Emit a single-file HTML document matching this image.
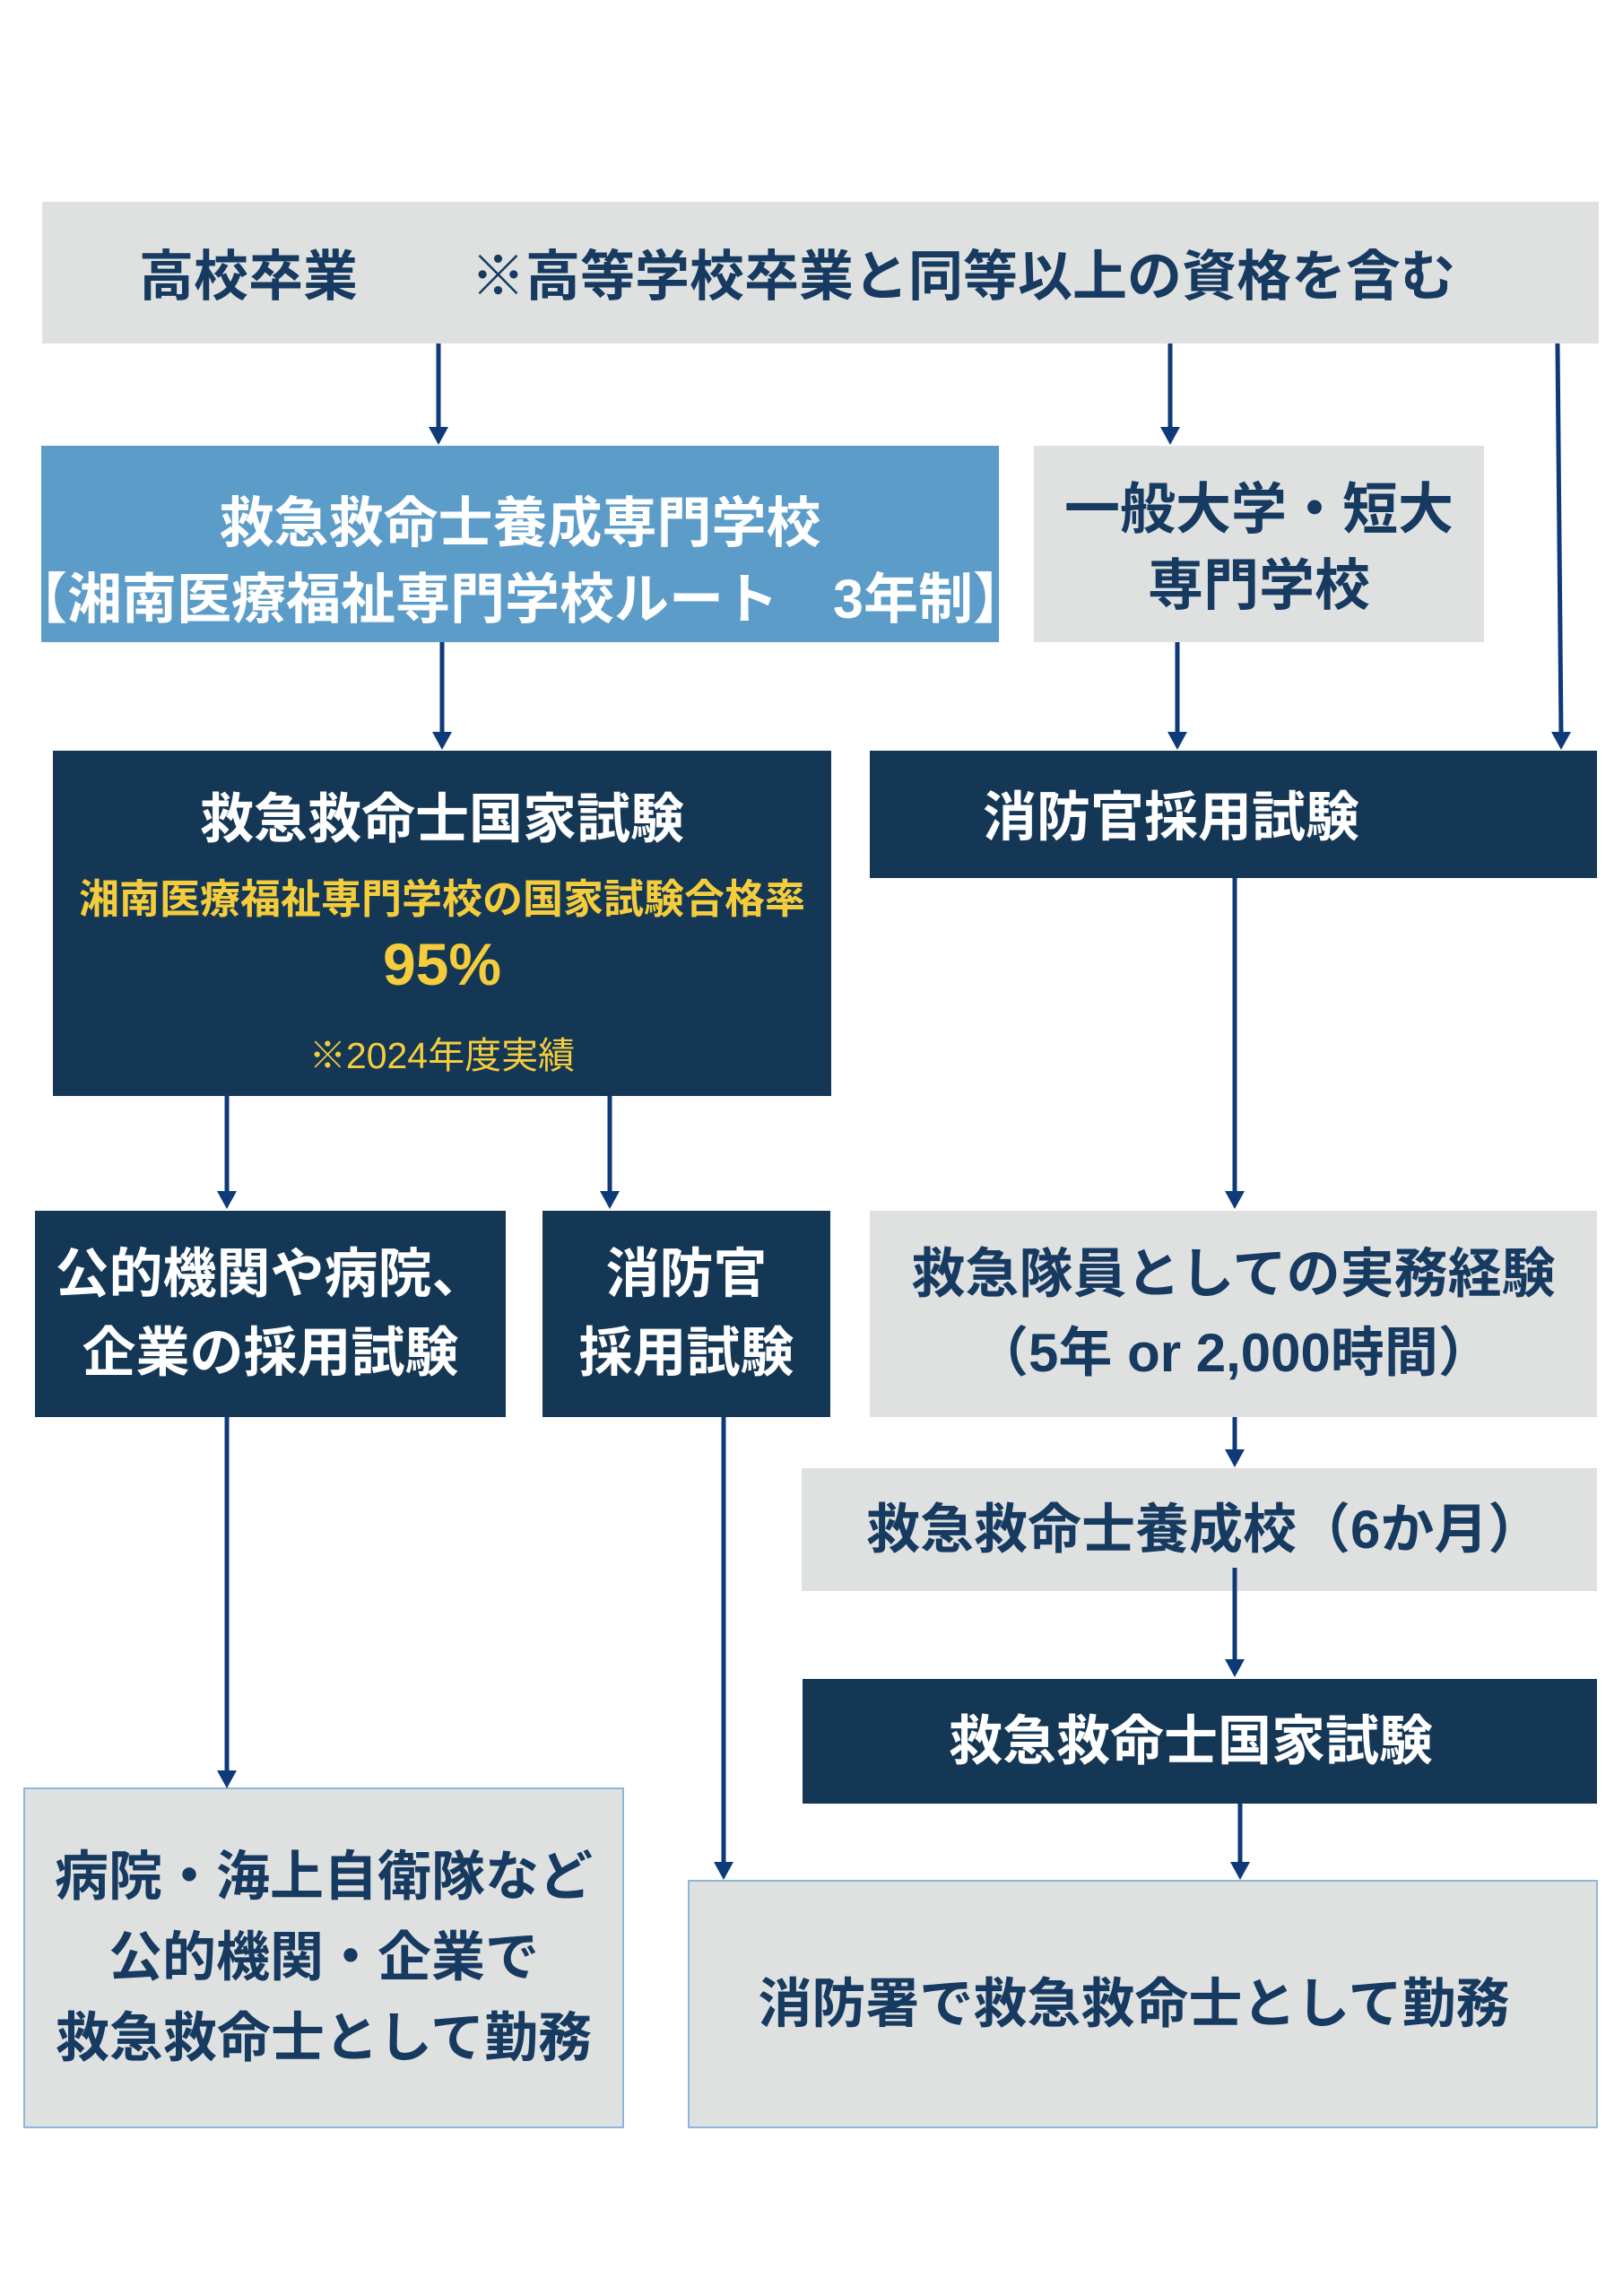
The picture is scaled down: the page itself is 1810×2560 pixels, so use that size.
<!DOCTYPE html>
<html><head><meta charset="utf-8"><style>
body{margin:0;width:1810px;height:2560px;background:#fff;position:relative;overflow:hidden;font-family:"Liberation Sans","Noto Sans CJK JP",sans-serif;font-weight:700}
.b{position:absolute;box-sizing:border-box;display:flex;flex-direction:column;align-items:center;justify-content:center;text-align:center;white-space:nowrap}
.g{background:#dfe1e1;color:#173a60}
.d{background:#143755;color:#fff}
.bl{background:#5c9cc9;color:#fff}
.f{font-size:60px;line-height:88px}
svg{position:absolute;left:0;top:0}
</style></head><body>
<div class="b g" style="left:47px;top:225px;width:1736px;height:158px;display:block;font-size:61px;line-height:166px;text-align:left"><span style="position:absolute;left:108px">高校卒業</span><span style="position:absolute;left:478px">※高等学校卒業と同等以上の資格を含む</span></div>
<div class="b bl" style="left:46px;top:497px;width:1068px;height:219px;font-size:61px;line-height:85px;padding-top:38px"><div>救急救命士養成専門学校</div><div>【湘南医療福祉専門学校ルート　3年制】</div></div>
<div class="b g" style="left:1153px;top:497px;width:502px;height:219px;font-size:62px;line-height:85px;padding-top:8px"><div>一般大学・短大</div><div>専門学校</div></div>
<div class="b d" style="left:59px;top:837px;width:868px;height:385px;justify-content:flex-start">
<div style="font-size:60px;margin-top:42px;line-height:70px">救急救命士国家試験</div>
<div style="font-size:45px;color:#f5cd3c;margin-top:26px;line-height:56px">湘南医療福祉専門学校の国家試験合格率</div>
<div style="font-size:66px;color:#f5cd3c;line-height:84px;margin-top:2px">95%</div>
<div style="font-size:41px;color:#f5cd3c;font-weight:400;margin-top:26px">※2024年度実績</div></div>
<div class="b d" style="left:970px;top:837px;width:811px;height:142px;display:block;font-size:60px;line-height:150px;text-align:left"><span style="position:absolute;left:126px">消防官採用試験</span></div>
<div class="b d f" style="left:39px;top:1350px;width:525px;height:230px"><div>公的機関や病院、</div><div>企業の採用試験</div></div>
<div class="b d f" style="left:605px;top:1350px;width:321px;height:230px"><div>消防官</div><div>採用試験</div></div>
<div class="b g f" style="left:970px;top:1350px;width:811px;height:230px"><div>救急隊員としての実務経験</div><div>（5年 or 2,000時間）</div></div>
<div class="b g f" style="left:894px;top:1637px;width:887px;height:137px;align-items:flex-start;padding-left:72px">救急救命士養成校（6か月）</div>
<div class="b d f" style="left:895px;top:1872px;width:886px;height:139px;padding-right:20px">救急救命士国家試験</div>
<div class="b g f" style="left:26px;top:1993px;width:670px;height:380px;border:2px solid #8db6dc;line-height:90px"><div>病院・海上自衛隊など</div><div>公的機関・企業で</div><div>救急救命士として勤務</div></div>
<div class="b g f" style="left:767px;top:2096px;width:1015px;height:277px;border:2px solid #8db6dc;padding-right:20px">消防署で救急救命士として勤務</div>
<svg width="1810" height="2560" viewBox="0 0 1810 2560">
<g stroke="#0e3a7a" stroke-width="5" fill="none">
<path d="M489 383 V480"/><path d="M1305 383 V480"/><path d="M1737 383 L1741 820"/>
<path d="M493 716 V822"/><path d="M1313 716 V822"/>
<path d="M253 1222 V1330"/><path d="M680 1222 V1330"/><path d="M1377 979 V1330"/>
<path d="M1377 1580 V1622"/><path d="M1377 1748 V1852"/><path d="M1383 2011 V2080"/>
<path d="M253 1580 V1978"/><path d="M807 1580 V2080"/>
</g>
<g fill="#0e3a7a">
<path d="M478 476 L500 476 L489 496 z"/><path d="M1294 476 L1316 476 L1305 496 z"/><path d="M1730 816 L1752 816 L1741 836 z"/>
<path d="M482 816 L504 816 L493 836 z"/><path d="M1302 816 L1324 816 L1313 836 z"/>
<path d="M242 1328 L264 1328 L253 1348 z"/><path d="M669 1328 L691 1328 L680 1348 z"/><path d="M1366 1328 L1388 1328 L1377 1348 z"/>
<path d="M1366 1616 L1388 1616 L1377 1636 z"/><path d="M1366 1850 L1388 1850 L1377 1870 z"/><path d="M1372 2076 L1394 2076 L1383 2096 z"/>
<path d="M242 1974 L264 1974 L253 1994 z"/><path d="M796 2076 L818 2076 L807 2096 z"/>
</g></svg>
</body></html>
